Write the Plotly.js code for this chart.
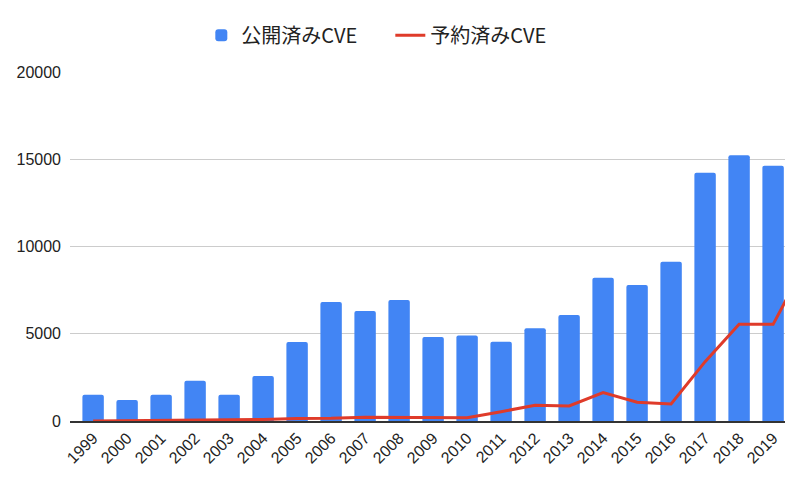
<!DOCTYPE html>
<html>
<head>
<meta charset="utf-8">
<script src="https://cdn.plot.ly/plotly-3.0.1.min.js"></script>
<style>html,body{margin:0;padding:0;background:#fff;}#chart{width:800px;height:487px;}</style>
</head>
<body>
<div id="chart"></div>
<script>
var years = ['1999','2000','2001','2002','2003','2004','2005','2006','2007','2008','2009','2010','2011','2012','2013','2014','2015','2016','2017','2018','2019'];
var lineYears = years.concat(['2020']);
var publishedCVE = [1500,1200,1500,2300,1500,2580,4530,6820,6300,6930,4810,4900,4545,5310,6075,8215,7790,9130,14230,15225,14630];
var reservedCVE = [0,20,40,70,60,90,150,160,220,200,190,190,535,900,860,1625,1075,980,3400,5540,5540,9200];
var nameBar = '公開済みCVE';
var nameLine = '予約済みCVE';
var yTicks = [0,5000,10000,15000,20000];

var font = 'Liberation Sans, Arial, "Noto Sans CJK JP", sans-serif';
var data = [
  {type:'bar', x: years, y: publishedCVE, name: nameBar,
   marker:{color:'#4285F4', cornerradius:2}, hoverinfo:'x+y'},
  {type:'scatter', mode:'lines', x: lineYears, y: reservedCVE, name: nameLine,
   line:{color:'#DF3B2A', width:3}, cliponaxis:true}
];
var layout = {
  width:800, height:487,
  margin:{l:70, r:15, t:72, b:66},
  paper_bgcolor:'#fff', plot_bgcolor:'#fff',
  font:{family:font, color:'#222'},
  bargap:0.37,
  showlegend:true,
  legend:{orientation:'h', x:0.448, xanchor:'center', y:1.105, yanchor:'middle',
          entrywidth:144, entrywidthmode:'pixels',
          font:{size:20, color:'#222', family:'"Noto Sans CJK JP", sans-serif'}, traceorder:'normal'},
  xaxis:{type:'category', categoryorder:'array', categoryarray: lineYears,
         range:[-0.68, 20.35], tickangle:-45, tickfont:{size:16, color:'#222'},
         showgrid:false, showline:true, linecolor:'#333', linewidth:1.5, ticks:'', fixedrange:true},
  yaxis:{range:[0,20000], tickvals: yTicks, ticktext: yTicks.map(String),
         tickfont:{size:16, color:'#222'}, showgrid:true, gridcolor:'#cccccc', gridwidth:1,
         zeroline:false, showline:false, ticks:'', ticklabelstandoff:8, fixedrange:true}
};
Plotly.newPlot('chart', data, layout, {displayModeBar:false, staticPlot:true});
</script>
</body>
</html>
